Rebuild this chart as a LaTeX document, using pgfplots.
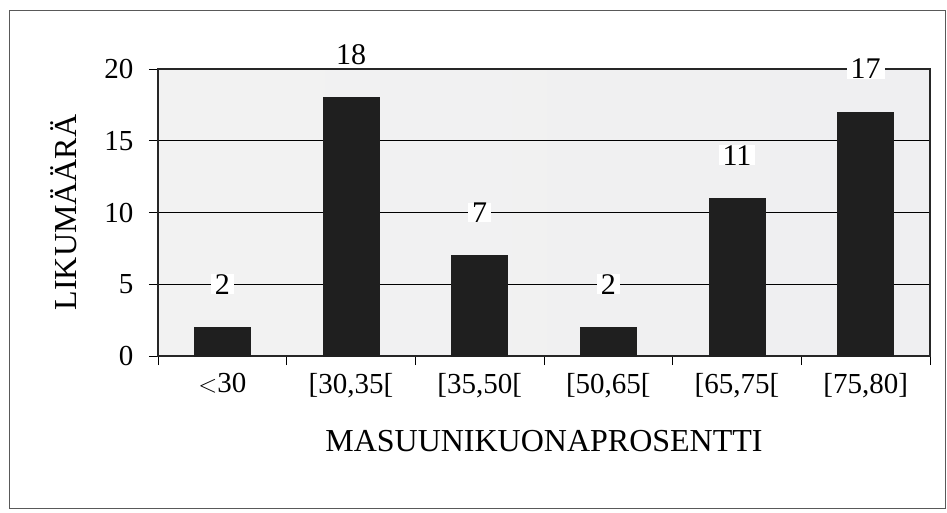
\documentclass[border=0pt]{standalone}
\usepackage{pgfplots}
\pgfplotsset{compat=1.18}
\usepackage{fontspec}
\setmainfont{Liberation Serif}
\begin{document}
\fontsize{28}{32}\selectfont
\begin{tikzpicture}[x=1pt,y=1pt]
\useasboundingbox (0,0) rectangle (947,512);
\draw[gray!70!black, line width=1pt] (9,4) rectangle (945,501);
\begin{axis}[
  at={(158pt,156pt)}, anchor=south west,
  scale only axis, width=772pt, height=287pt,
  xmin=0, xmax=6, ymin=0, ymax=20,
  ytick={0,5,10,15,20},
  xtick={0,1,2,3,4,5,6},
  xticklabels={},
  extra x ticks={0.5,1.5,2.5,3.5,4.5,5.5},
  extra x tick labels={{$<$30},{[30,35[},{[35,50[},{[50,65[},{[65,75[},{[75,80]}},
  extra x tick style={major tick length=0pt, grid=none},
  tick pos=left,
  tick align=outside, major tick length=9pt,
  tick style={black, line width=0.8pt},
  ymajorgrids, major grid style={black, line width=1pt},
  axis line style={black!85, line width=2.2pt},
  axis background/.style={left color=gray!10, right color=blue!6!gray!12},
  /pgf/number format/assume math mode=true,
  ticklabel style={font=\fontsize{29}{33}\selectfont},
  xticklabel style={yshift=-8pt},
  yticklabel style={xshift=-6pt},
  ylabel={LIKUMÄÄRÄ},
  xlabel={MASUUNIKUONAPROSENTTI},
  label style={font=\fontsize{32}{36}\selectfont},
  ylabel style={yshift=9pt},
  xlabel style={yshift=-4pt},
  clip=false,
]
\addplot[ybar, bar width=56pt, fill=black!88, draw=black!88,
  nodes near coords,
  every node near coord/.append style={anchor=center, yshift=43pt, fill=white, inner xsep=4pt, inner ysep=0pt, text=black, font=\fontsize{30}{34}\selectfont}]
  coordinates {(0.5,2) (1.5,18) (2.5,7) (3.5,2) (4.5,11) (5.5,17)};
\end{axis}
\end{tikzpicture}
\end{document}
